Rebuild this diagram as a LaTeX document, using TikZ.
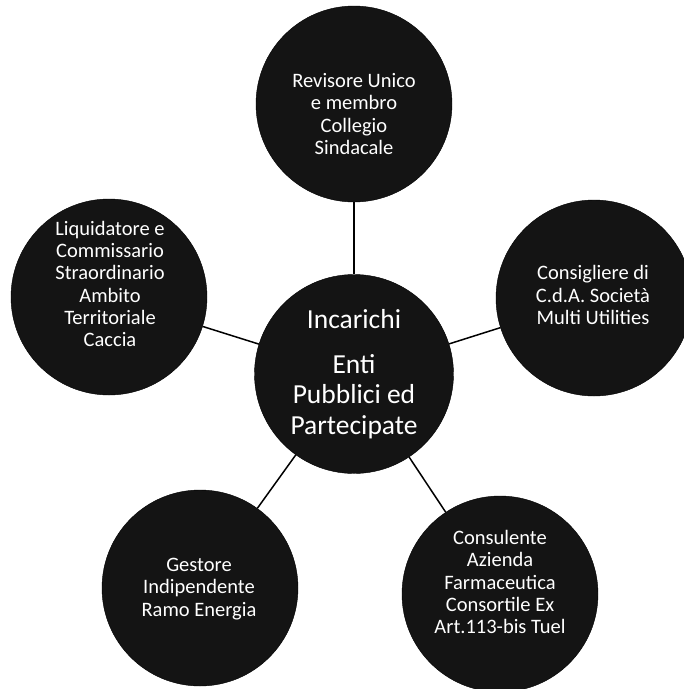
\documentclass[tikz,border=0pt]{standalone}
\usepackage{fontspec}
\setmainfont{Carlito}
\begin{document}
\begin{tikzpicture}[x=1pt,y=-1pt,
  bubble/.style={circle, fill=black!92, draw=black, minimum size=196pt, inner sep=0pt},
  bigbubble/.style={bubble, minimum size=199pt},
  btext/.style={text=white, align=center, font=\fontsize{20.5}{22.3}\selectfont, inner sep=0pt},
  ctext/.style={text=white, align=center, font=\fontsize{27.5}{30.5}\selectfont, inner sep=0pt},
  link/.style={draw=black, line width=1.5pt}]
\useasboundingbox (0,0) rectangle (684,689);
\clip (0,0) rectangle (684,689);
\node[bigbubble] (C) at (354,374) {};
\node[bubble] (T) at (354,104) {};
\node[bubble] (L) at (109,297) {};
\node[bubble] (R) at (594,298) {};
\node[bubble] (BL) at (200,588) {};
\node[bubble] (BR) at (500,594) {};
\draw[link] (C) -- (T);
\draw[link] (C) -- (L);
\draw[link] (C) -- (R);
\draw[link] (C) -- (BL);
\draw[link] (C) -- (BR);
\node[ctext] (Ct) at (354,374) {Incarichi\\[14pt]Enti\\Pubblici ed\\Partecipate};
\node[btext] (Tt) at (354,114) {Revisore Unico\\e membro\\Collegio\\Sindacale};
\node[btext] (Lt) at (110,284) {Liquidatore e\\Commissario\\Straordinario\\Ambito\\Territoriale\\Caccia};
\node[btext] (Rt) at (593,295) {Consigliere di\\C.d.A. Società\\Multi Utilities};
\node[btext] (BLt) at (199,589) {Gestore\\Indipendente\\Ramo Energia};
\node[btext] (BRt) at (500,582) {Consulente\\Azienda\\Farmaceutica\\Consortile Ex\\Art.113-bis Tuel};
\end{tikzpicture}
\end{document}
